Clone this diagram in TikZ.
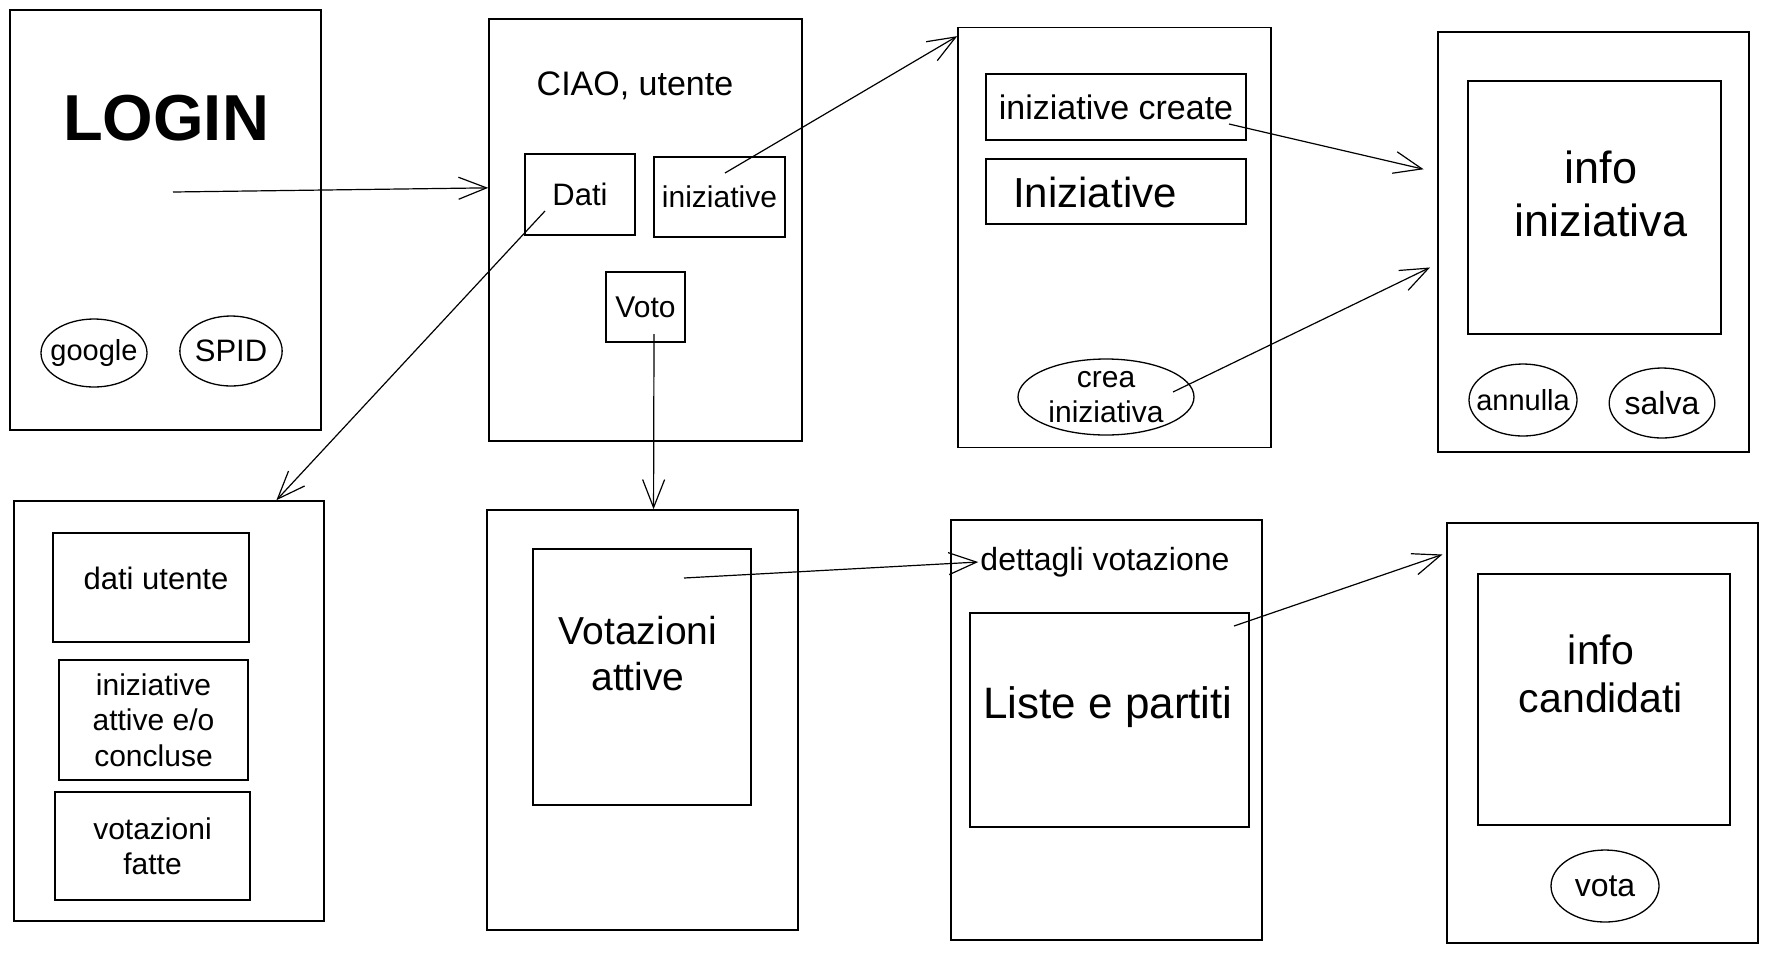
\documentclass[tikz,border=0pt]{standalone}
\usepackage{fontspec}
\setmainfont{Liberation Sans}
\usetikzlibrary{arrows.meta,shapes.geometric,positioning}

\tikzset{
  screen/.style={draw, line width=1.6pt, minimum width=311, minimum height=420},
  panel/.style={draw, line width=1.5pt, inner sep=0pt, align=center},
  btn/.style={draw, ellipse, line width=1.3pt, inner sep=0pt, align=center},
  arr/.style={-{Straight Barb[length=28pt,width=22pt]}, line width=1.2pt},
  txt/.style={align=center, inner sep=2pt},
}
\newcommand{\fs}[1]{\fontsize{#1}{1.18\dimexpr#1pt\relax}\selectfont}

\begin{document}
\begin{tikzpicture}[x=1pt,y=-1pt]
\useasboundingbox (0,0) rectangle (1768,954);

% schermate
\node[screen] (login) at (165.5,220) {};
\node[screen, minimum width=313, minimum height=422] (home) at (645.5,230) {};
\node[screen, minimum width=313] (inizscr) at (1114.5,237.5) {};
\node[screen] (infoiniz) at (1593.5,242) {};
\node[screen, minimum width=310] (datiscr) at (169,711) {};
\node[screen] (votscr) at (642.5,720) {};
\node[screen] (dettscr) at (1106.5,730) {};
\node[screen] (candscr) at (1602.5,733) {};

% login
\node[txt, font=\fs{65}\bfseries] (logintxt) at (166,118) {LOGIN};
\node[btn, inner xsep=-12pt, minimum width=106, minimum height=68, font=\fs{29}] (google) at (94,353) {google};
\node[btn, minimum width=100, minimum height=70, font=\fs{31}] (spid) at (231,351) {SPID};

% home
\node[txt, font=\fs{34}] (ciao) at (635,86) {CIAO, utente};
\node[panel, minimum width=110, minimum height=81, font=\fs{31}] (dati) at (580,194.5) {Dati};
\node[panel, minimum width=131, minimum height=80, font=\fs{30}] (iniz) at (719.5,197) {iniziative};
\node[panel, minimum width=79, minimum height=70, font=\fs{30}] (voto) at (645.5,307) {Voto};

% iniziative
\node[panel, minimum width=260, minimum height=66, font=\fs{34}] (create) at (1116,107) {iniziative create};
\node[panel, minimum width=260, minimum height=65] (elenco) at (1116,191.5) {};
\node[txt, font=\fs{42}] (elencotxt) at (1095,192) {Iniziative};
\node[btn, minimum width=176, minimum height=76, font=\fs{30}] (crea) at (1106,397) {crea\\iniziativa};

% info iniziativa
\node[panel, minimum width=253, minimum height=253] (infobox) at (1594.5,207.5) {};
\node[txt, font=\fs{45}] (infotxt) at (1601,194) {info\\iniziativa};
\node[btn, inner xsep=-12pt, minimum width=108, minimum height=72, font=\fs{29}] (annulla) at (1523,400) {annulla};
\node[btn, minimum width=102, minimum height=70, font=\fs{32}] (salva) at (1662,403) {salva};

% dati utente
\node[panel, minimum width=196, minimum height=109] (utente) at (151,587.5) {};
\node[txt, font=\fs{31}] (utentetxt) at (156,578) {dati utente};
\node[panel, minimum width=189, minimum height=120, font=\fs{30}] (attive) at (153.5,720) {iniziative\\attive e/o\\concluse};
\node[panel, minimum width=195, minimum height=108, font=\fs{30}] (fatte) at (152.5,846) {votazioni\\fatte};

% votazioni
\node[panel, minimum width=218, minimum height=256] (votbox) at (642,677) {};
\node[txt, font=\fs{39}] (vottxt) at (638,654) {Votazioni\\attive};

% dettagli
\node[txt, font=\fs{32}] (dett) at (1105,562) {dettagli votazione};
\node[panel, minimum width=279, minimum height=214] (liste) at (1109.5,720) {};
\node[txt, font=\fs{44}] (listetxt) at (1108,707) {Liste e partiti};

% candidati
\node[panel, minimum width=252, minimum height=251] (candbox) at (1604,699.5) {};
\node[txt, font=\fs{41}] (candtxt) at (1601,674) {info\\candidati};
\node[btn, minimum width=108, minimum height=72, font=\fs{32}] (vota) at (1605,886) {vota};

% partenze delle frecce
\coordinate (loginfrom) at (173,192);
\coordinate (datifrom) at (545,211);
\coordinate (inizfrom) at (725,173);
\coordinate (votofrom) at (654,334);
\coordinate (createfrom) at (1229,124);
\coordinate (creafrom) at (1173,392);
\coordinate (votfrom) at (684,578);
\coordinate (listefrom) at (1234,626);

\draw[arr] (loginfrom) -- (home.165);
\draw[arr] (datifrom) -- (datiscr.63);
\draw[arr] (inizfrom) -- (inizscr.128);
\draw[arr] (votofrom) -- (votscr.87);
\draw[arr, shorten >=14pt] (createfrom) -- (infoiniz.156);
\draw[arr, shorten >=8pt] (creafrom) -- (infoiniz.188);
\draw[arr] (votfrom) -- (dett.west);
\draw[arr, shorten >=4pt] (listefrom) -- (candscr.131);
\end{tikzpicture}
\end{document}
